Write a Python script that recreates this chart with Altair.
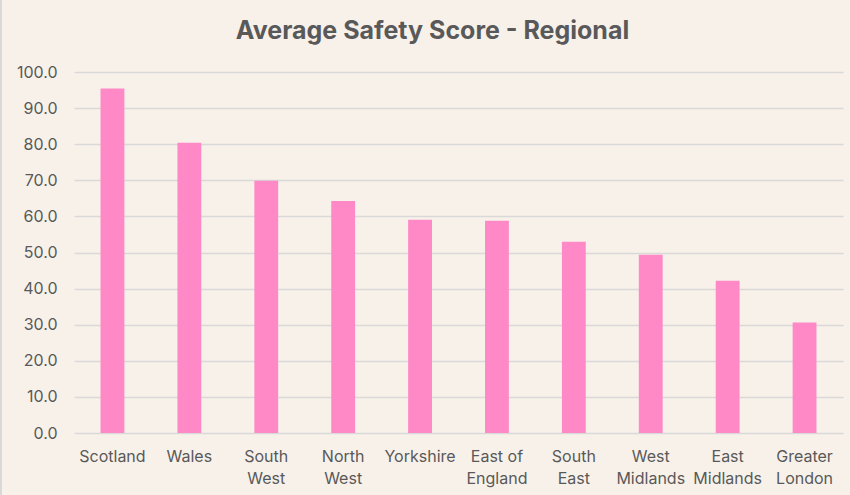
import altair as alt
import pandas as pd

regions = ["Scotland", "Wales", "South West", "North West", "Yorkshire",
           "East of England", "South East", "West Midlands", "East Midlands",
           "Greater London"]
scores = [95.4, 80.4, 69.9, 64.3, 59.1, 58.8, 53.0, 49.4, 42.2, 30.6]
y_ticks = [0, 10, 20, 30, 40, 50, 60, 70, 80, 90, 100]

df = pd.DataFrame({"region": regions, "score": scores})

FONT = "Inter"
TEXT = "#595959"
GRID = "#D9D9D9"
BG = "#F8F1EA"

label_expr = ("datum.label == 'East of England' ? ['East of', 'England'] : "
              "split(datum.label, ' ')")

base = alt.Chart(df)

bars = base.mark_bar(color="#FF89C7").encode(
    x=alt.X("region:N", sort=regions, title=None,
            scale=alt.Scale(paddingInner=0.69, paddingOuter=0.345),
            axis=alt.Axis(labelExpr=label_expr, labelAngle=0, ticks=False,
                          domain=False, grid=False, labelPadding=15,
                          labelFontSize=16, labelLineHeight=22,
                          labelColor=TEXT, labelFont=FONT)),
    y=alt.Y("score:Q", title=None,
            scale=alt.Scale(domain=[0, 100], nice=False),
            axis=alt.Axis(values=y_ticks, format=".1f", ticks=False,
                          domain=False, gridColor=GRID, gridWidth=1.5,
                          labelPadding=17, labelFontSize=16,
                          labelColor=TEXT, labelFont=FONT)),
)

# thin frame line on the left edge of the chart area
edge = base.mark_rule(color=GRID, strokeWidth=2, clip=False).encode(
    x=alt.value(-73), y=alt.value(-72), y2=alt.value(423)
)

# the frame line lifts the group bounds above the plot, so the
# title is pulled back down with dy
chart = alt.layer(edge, bars).properties(
    width=769,
    height=361,
    background=BG,
    padding={"left": 74, "top": 72, "right": 7, "bottom": 62},
    autosize=alt.AutoSizeParams(type="none"),
    title=alt.TitleParams(
        "Average Safety Score - Regional",
        anchor="middle", frame="group", baseline="alphabetic",
        dx=-26, dy=98, offset=33,
        font=FONT, fontSize=25, fontWeight="bold", color=TEXT,
    ),
).configure_view(stroke=None)

chart.save("out.html", embed_options={"renderer": "svg", "actions": False})
